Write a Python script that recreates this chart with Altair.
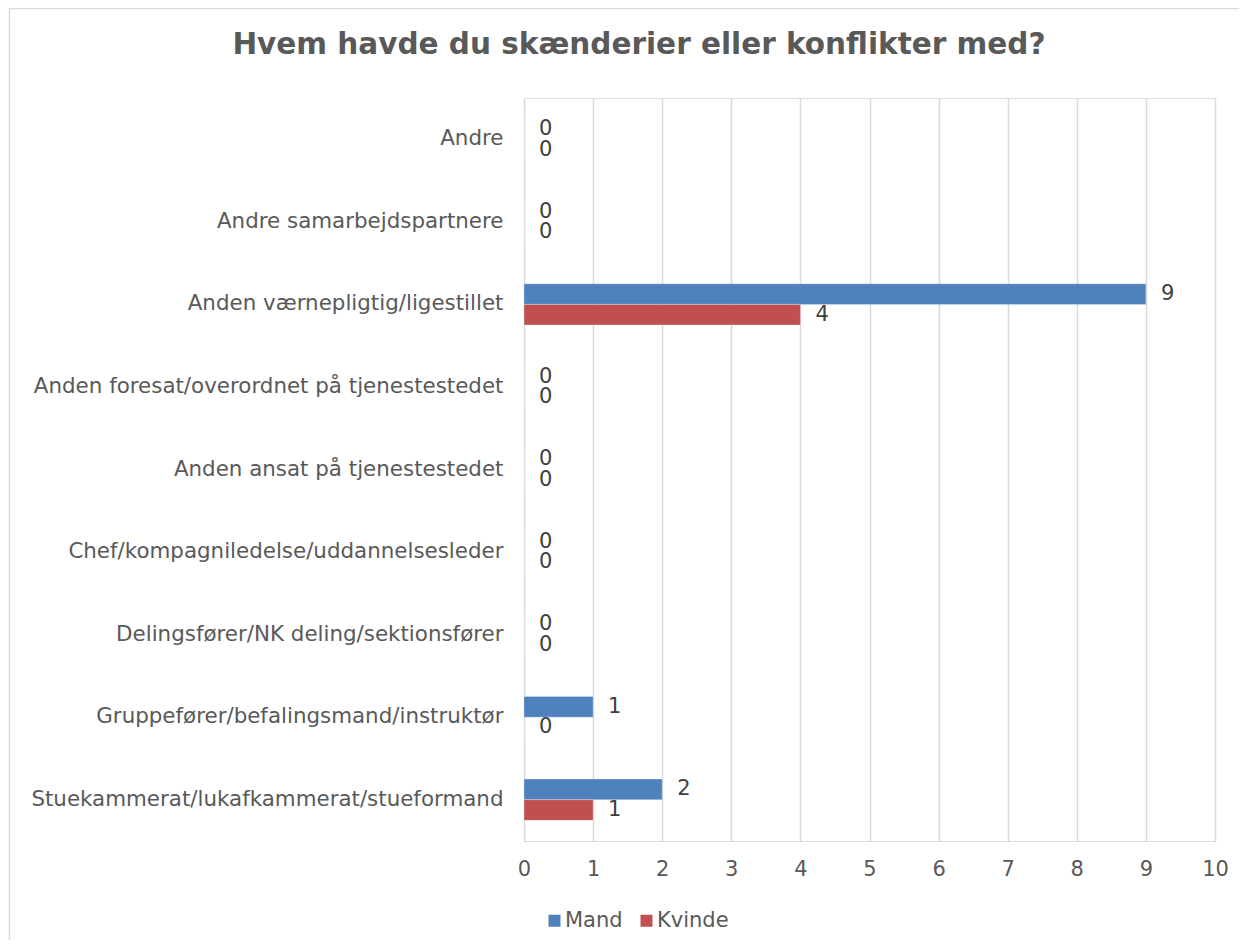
import altair as alt
import pandas as pd

categories = [
    "Andre",
    "Andre samarbejdspartnere",
    "Anden værnepligtig/ligestillet",
    "Anden foresat/overordnet på tjenestestedet",
    "Anden ansat på tjenestestedet",
    "Chef/kompagniledelse/uddannelsesleder\u00a0",
    "Delingsfører/NK deling/sektionsfører",
    "Gruppefører/befalingsmand/instruktør\u00a0",
    "Stuekammerat/lukafkammerat/stueformand",
]
mand = [0, 0, 9, 0, 0, 0, 0, 1, 2]
kvinde = [0, 0, 4, 0, 0, 0, 0, 0, 1]
series = ["Mand", "Kvinde"]
colors = ["#4F81BD", "#C0504D"]
x_ticks = [0, 1, 2, 3, 4, 5, 6, 7, 8, 9, 10]
title_text = "Hvem havde du skænderier eller konflikter med?"

rows = []
for c, m, k in zip(categories, mand, kvinde):
    rows.append({"kategori": c, "køn": "Mand", "antal": m})
    rows.append({"kategori": c, "køn": "Kvinde", "antal": k})
df = pd.DataFrame(rows)

FONT = "DejaVu Sans"
TXT = "#595959"
FS = 21

y_enc = alt.Y(
    "kategori:N",
    sort=categories,
    title=None,
    scale=alt.Scale(paddingInner=0.5, paddingOuter=0.25),
    axis=alt.Axis(
        domain=False, ticks=False, grid=False, labelFontSize=21.4,
        labelColor=TXT, labelFont=FONT, labelPadding=21, labelLimit=600,
    ),
)
yoff = alt.YOffset("køn:N", sort=series, scale=alt.Scale(paddingInner=0, paddingOuter=0))
x_enc = alt.X(
    "antal:Q",
    title=None,
    scale=alt.Scale(domain=[0, 10], nice=False),
    axis=alt.Axis(
        values=x_ticks, domain=False, ticks=False, grid=True, gridColor="#d9d9d9",
        gridWidth=1.5, labelFontSize=FS, labelColor=TXT, labelFont=FONT,
        labelPadding=17, format="d", labelFlush=False,
    ),
)

base = alt.Chart(df)
bars = base.mark_bar(stroke="white", strokeWidth=0.5, strokeOpacity=0.6).encode(
    x=x_enc,
    y=y_enc,
    yOffset=yoff,
    color=alt.Color(
        "køn:N",
        sort=series,
        scale=alt.Scale(domain=series, range=colors),
        legend=alt.Legend(
            title=None, orient="none", legendX=20, legendY=812, direction="horizontal",
            symbolType="square", symbolSize=144, symbolStrokeWidth=0,
            labelFontSize=FS, labelColor=TXT, labelFont=FONT, labelOffset=0,
            columnPadding=13,
        ),
    ),
)
labels = base.mark_text(
    align="left", baseline="middle", dx=15, fontSize=FS, font=FONT, color="#404040"
).encode(
    x="antal:Q",
    y=alt.Y("kategori:N", sort=categories),
    yOffset=yoff,
    text=alt.Text("antal:Q", format="d"),
)

frame = alt.Chart(pd.DataFrame({"f": [0]})).mark_rect(
    filled=False, stroke="#d9d9d9", strokeWidth=1.5
).encode(
    x=alt.value(-514.5), x2=alt.value(900), y=alt.value(-89.5), y2=alt.value(1100)
)

title = alt.Chart(pd.DataFrame({"t": [title_text]})).mark_text(
    fontSize=29.5, fontWeight="bold", color=TXT, font=FONT, align="center",
    baseline="alphabetic",
).encode(text="t:N", x=alt.value(115), y=alt.value(-44))

chart = alt.layer(frame, title, bars, labels).properties(
    width=691,
    height=743,
    autosize=alt.AutoSizeParams(type="none"),
    padding={"left": 516, "top": 90, "right": 24, "bottom": 99},
).configure_view(stroke=None).configure(background="white")

chart.save("out.html", embed_options={"renderer": "svg", "actions": False})
